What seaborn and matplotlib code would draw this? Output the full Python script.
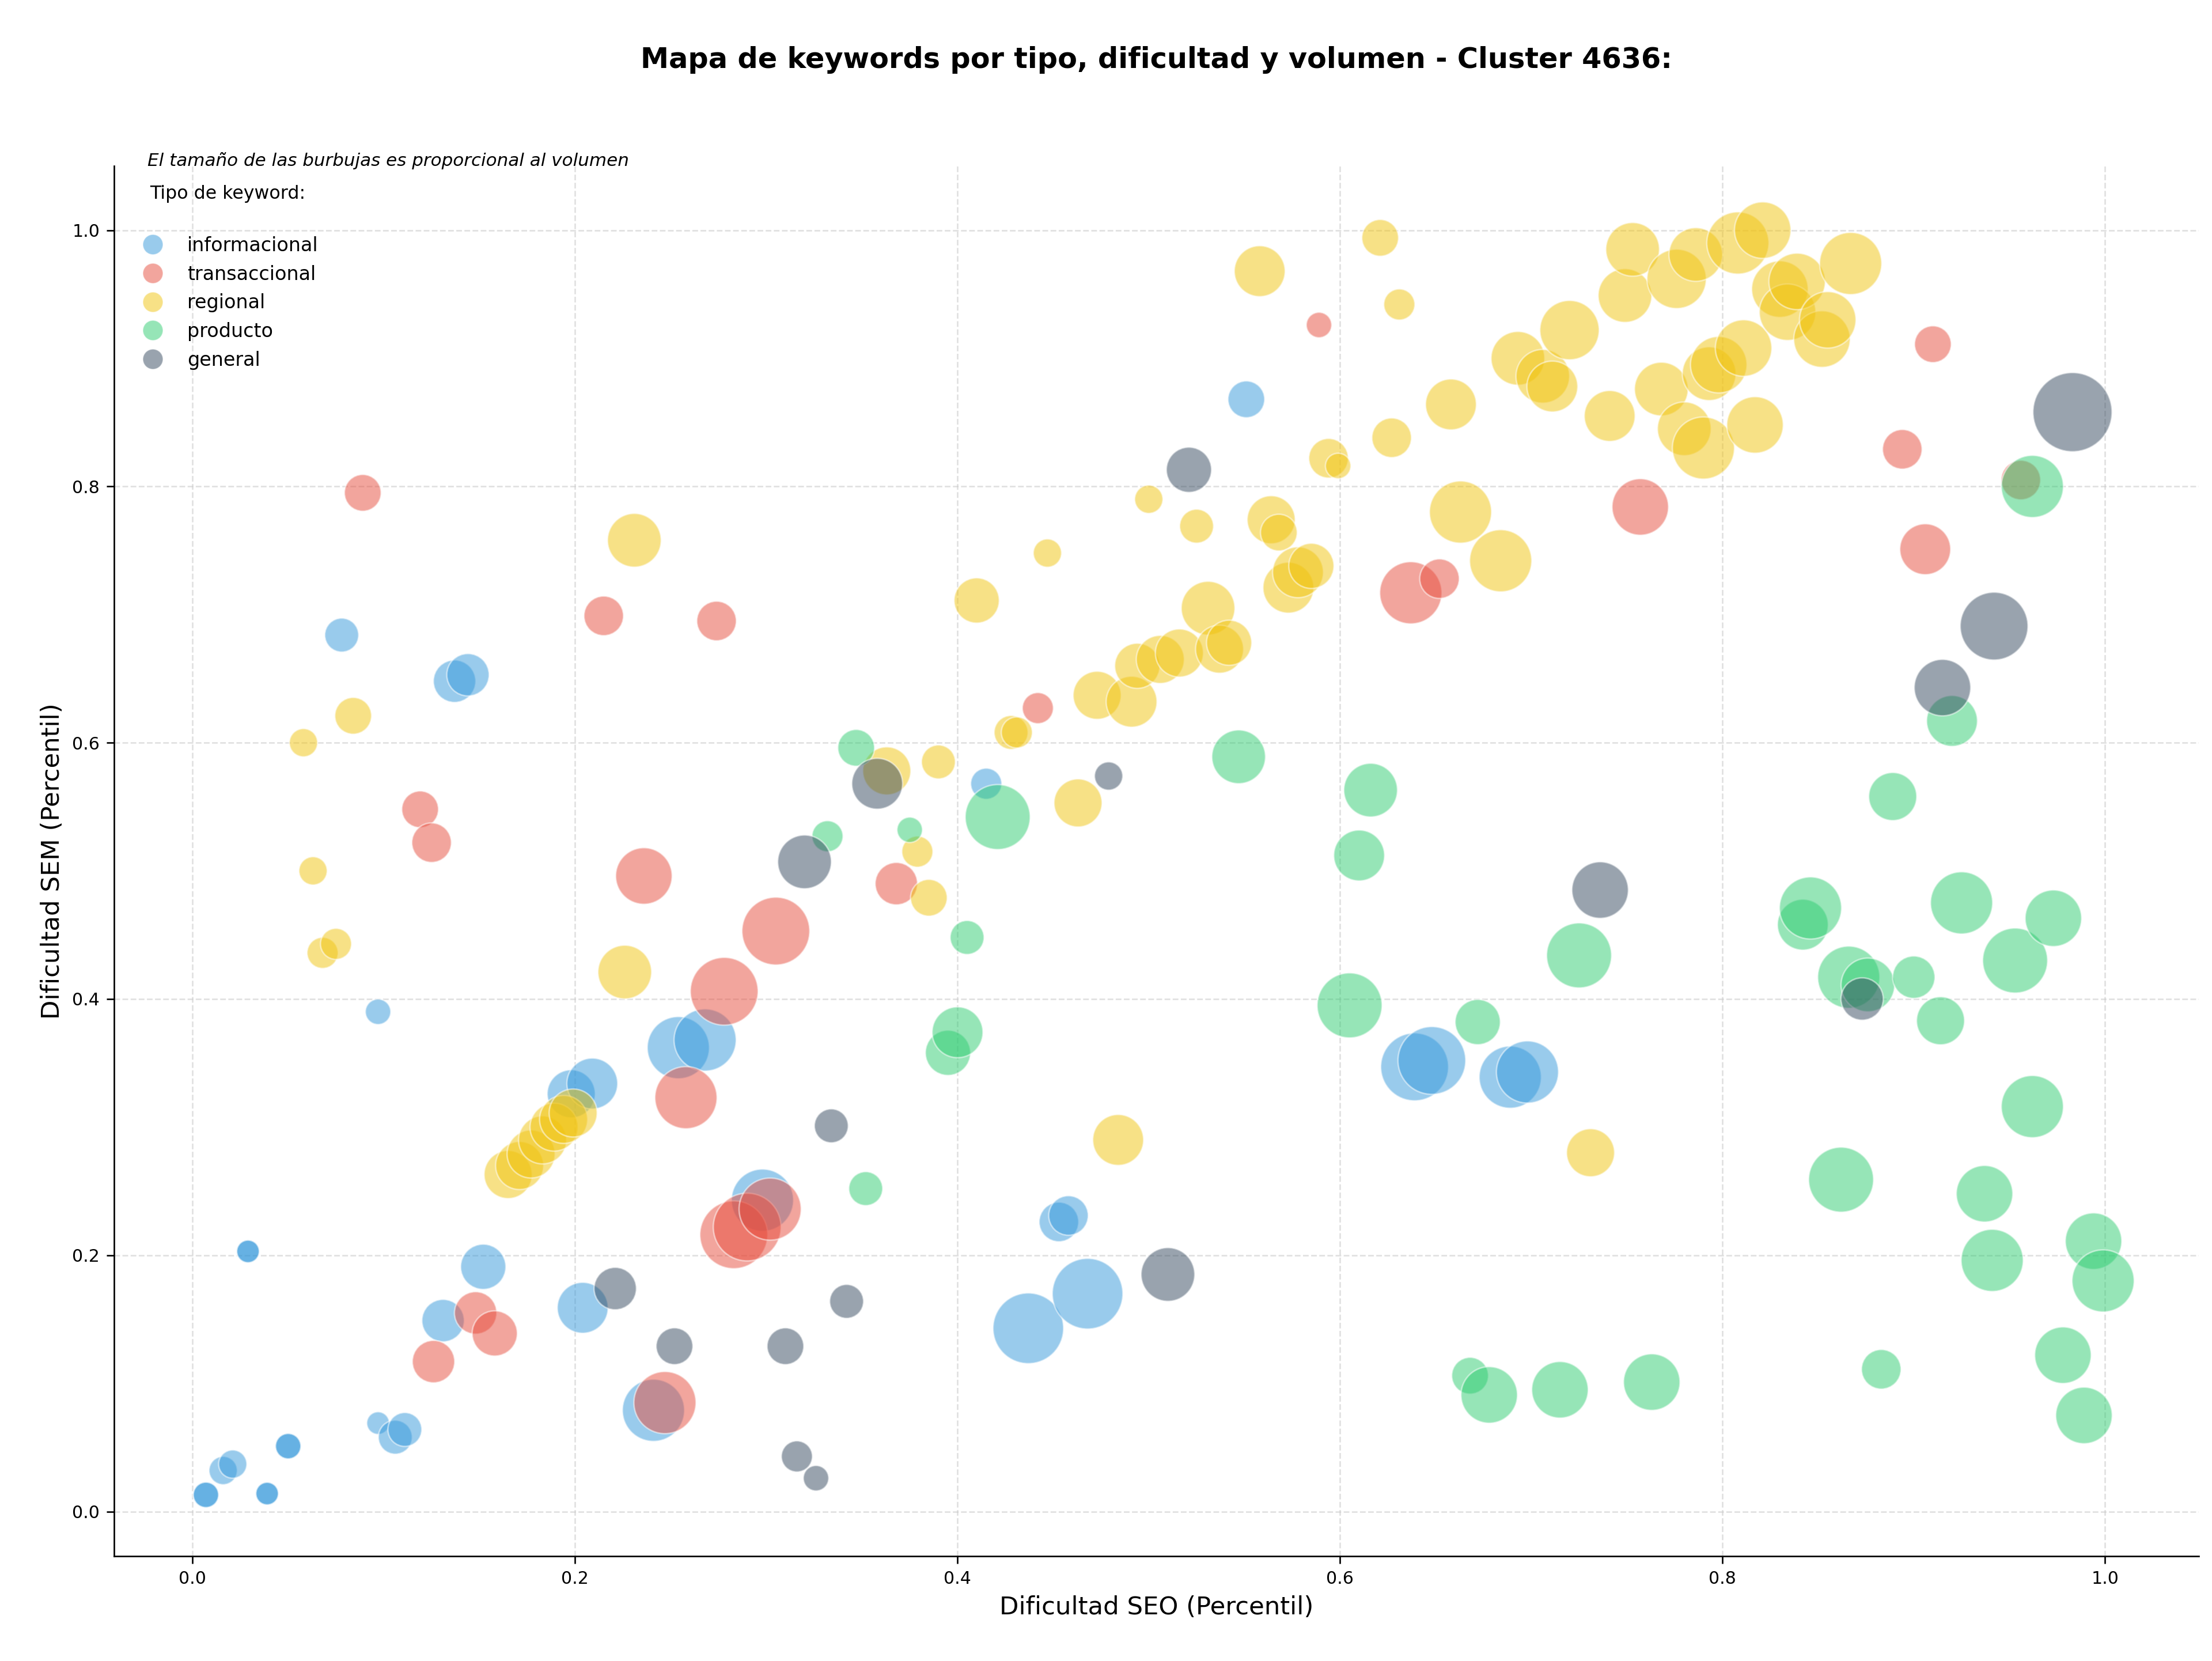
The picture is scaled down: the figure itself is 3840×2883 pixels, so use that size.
import numpy as np
import pandas as pd
import matplotlib
matplotlib.use("Agg")
import matplotlib.pyplot as plt
import seaborn as sns
from matplotlib.lines import Line2D

# ---------------- data ----------------
categorias = ["informacional", "transaccional", "regional", "producto", "general"]
colores = ["#3498DB", "#E74C3C", "#F1C40F", "#2ECC71", "#34495E"]

info_seo = [0.029, 0.029, 0.007, 0.007, 0.016, 0.021, 0.039, 0.039, 0.050, 0.050, 0.097, 0.106, 0.111,
            0.097, 0.078, 0.137, 0.144,
            0.131, 0.152, 0.204, 0.198, 0.209, 0.254, 0.268, 0.241, 0.298, 0.415, 0.437, 0.453, 0.458,
            0.468, 0.551, 0.639, 0.648, 0.689, 0.698]
info_sem = [0.203, 0.203, 0.013, 0.013, 0.032, 0.037, 0.014, 0.014, 0.051, 0.051, 0.069, 0.058, 0.064,
            0.390, 0.684, 0.648, 0.653,
            0.149, 0.191, 0.159, 0.326, 0.334, 0.362, 0.368, 0.079, 0.243, 0.568, 0.143, 0.226, 0.231,
            0.170, 0.868, 0.347, 0.352, 0.339, 0.343]
info_vol = [640, 640, 810, 810, 1000, 1000, 640, 640, 810, 810, 640, 1440, 1440,
            810, 1440, 2250, 2250,
            2250, 2560, 3240, 2890, 3240, 4840, 4840, 4840, 4840, 1210, 6250, 1960, 1960,
            6250, 1690, 5760, 5760, 4840, 4840]

trans_seo = [0.089, 0.119, 0.125, 0.215, 0.274, 0.236, 0.305, 0.278, 0.258, 0.126, 0.148, 0.158, 0.247,
             0.283, 0.290, 0.302, 0.368, 0.442, 0.589, 0.637, 0.652, 0.757, 0.894, 0.906, 0.910, 0.956]
trans_sem = [0.795, 0.548, 0.522, 0.699, 0.695, 0.496, 0.453, 0.406, 0.323, 0.117, 0.155, 0.139, 0.085,
             0.216, 0.222, 0.236, 0.490, 0.627, 0.926, 0.717, 0.728, 0.784, 0.829, 0.751, 0.911, 0.805]
trans_vol = [1690, 1690, 1960, 1960, 1960, 4000, 5760, 5760, 4840, 2250, 2250, 2560, 4840,
             5760, 5760, 4840, 2250, 1210, 810, 4840, 1960, 4000, 1960, 3240, 1690, 1960]

reg_seo = [0.058, 0.084, 0.063, 0.068, 0.075, 0.231, 0.226,
           0.165, 0.171, 0.177, 0.183, 0.189, 0.194, 0.199,
           0.363, 0.390, 0.379, 0.385, 0.410, 0.428, 0.431, 0.447, 0.463, 0.473, 0.484, 0.491,
           0.494, 0.500, 0.506, 0.516, 0.525, 0.531, 0.537, 0.542, 0.558, 0.564, 0.568, 0.573,
           0.578, 0.585, 0.594, 0.599, 0.621, 0.627, 0.631, 0.658, 0.663, 0.684, 0.693, 0.706,
           0.711, 0.720, 0.731, 0.741, 0.749, 0.753, 0.768, 0.776, 0.780, 0.786, 0.790, 0.793,
           0.798, 0.808, 0.811, 0.817, 0.821, 0.830, 0.834, 0.839, 0.852, 0.855, 0.867]
reg_sem = [0.600, 0.621, 0.500, 0.436, 0.443, 0.758, 0.421,
           0.263, 0.270, 0.279, 0.290, 0.300, 0.306, 0.311,
           0.578, 0.585, 0.515, 0.479, 0.711, 0.608, 0.608, 0.748, 0.553, 0.637, 0.290, 0.632,
           0.660, 0.790, 0.665, 0.670, 0.769, 0.705, 0.673, 0.678, 0.968, 0.774, 0.764, 0.721,
           0.733, 0.738, 0.822, 0.816, 0.994, 0.838, 0.942, 0.864, 0.780, 0.742, 0.900, 0.886,
           0.878, 0.922, 0.280, 0.855, 0.949, 0.985, 0.876, 0.962, 0.845, 0.981, 0.830, 0.888,
           0.895, 0.990, 0.908, 0.848, 1.000, 0.954, 0.936, 0.960, 0.915, 0.930, 0.974]
reg_vol = [1000, 1690, 1000, 1210, 1210, 3610, 3610,
           2890, 2890, 2890, 2890, 2890, 2890, 2890,
           2890, 1440, 1210, 1690, 2560, 1440, 1210, 1000, 2890, 2890, 3240, 3240,
           2560, 1000, 2890, 2890, 1440, 3610, 2890, 2560, 3240, 2890, 1690, 3240,
           3240, 2560, 1960, 810, 1690, 1960, 1210, 3240, 4840, 4840, 3610, 3610,
           3240, 4410, 2890, 3240, 3610, 3610, 3610, 4410, 3610, 3610, 4840, 3610,
           4000, 4840, 4000, 4000, 4000, 4000, 4000, 4000, 4000, 4000, 4840]

prod_seo = [0.347, 0.332, 0.375, 0.352, 0.405, 0.395, 0.400, 0.421, 0.547, 0.610, 0.616, 0.605, 0.672,
            0.668, 0.678, 0.715, 0.725, 0.763, 0.842, 0.846, 0.862, 0.866, 0.876, 0.883, 0.889, 0.900,
            0.914, 0.920, 0.925, 0.937, 0.941, 0.953, 0.962, 0.962, 0.973, 0.978, 0.989, 0.994, 0.999]
prod_sem = [0.596, 0.527, 0.532, 0.252, 0.448, 0.358, 0.374, 0.542, 0.589, 0.512, 0.563, 0.395, 0.382,
            0.106, 0.091, 0.095, 0.434, 0.101, 0.458, 0.471, 0.259, 0.417, 0.411, 0.111, 0.558, 0.417,
            0.383, 0.617, 0.475, 0.248, 0.196, 0.430, 0.316, 0.800, 0.463, 0.122, 0.075, 0.211, 0.180]
prod_vol = [1690, 1210, 810, 1440, 1440, 2560, 3240, 5290, 3610, 3240, 3610, 5290, 2560,
            1690, 4000, 4000, 5290, 4000, 3240, 4840, 5290, 4840, 3610, 1960, 2890, 2250,
            2890, 3240, 4840, 4000, 4840, 5290, 4840, 4840, 4000, 4000, 4000, 4000, 4840]

gen_seo = [0.221, 0.252, 0.310, 0.316, 0.326, 0.334, 0.342, 0.320, 0.358, 0.479, 0.510, 0.521, 0.736,
           0.873, 0.915, 0.942, 0.983]
gen_sem = [0.174, 0.129, 0.129, 0.043, 0.026, 0.301, 0.164, 0.507, 0.568, 0.574, 0.185, 0.813, 0.485,
           0.400, 0.643, 0.691, 0.858]
gen_vol = [2250, 1690, 1690, 1210, 810, 1440, 1440, 3610, 3240, 1000, 3610, 2560, 4000,
           2250, 4000, 5760, 7840]

titulo = "Mapa de keywords por tipo, dificultad y volumen - Cluster 4636:"
nota = "El tamaño de las burbujas es proporcional al volumen"
titulo_leyenda = "Tipo de keyword:"
xlabel = "Dificultad SEO (Percentil)"
ylabel = "Dificultad SEM (Percentil)"
xticks = [0.0, 0.2, 0.4, 0.6, 0.8, 1.0]
yticks = [0.0, 0.2, 0.4, 0.6, 0.8, 1.0]

# ---------------- table ----------------
frames = []
for cat, sx, sy, vv in zip(categorias,
                           [info_seo, trans_seo, reg_seo, prod_seo, gen_seo],
                           [info_sem, trans_sem, reg_sem, prod_sem, gen_sem],
                           [info_vol, trans_vol, reg_vol, prod_vol, gen_vol]):
    frames.append(pd.DataFrame({"seo": sx, "sem": sy, "volumen": vv, "tipo": cat}))
df = pd.concat(frames, ignore_index=True)

# ---------------- plot ----------------
sns.set_style("white")
plt.rcParams["font.family"] = ["DejaVu Sans"]
for k in ["text.color", "axes.labelcolor", "xtick.color", "ytick.color"]:
    plt.rcParams[k] = "black"

fig, ax = plt.subplots(figsize=(16, 12.0125), dpi=240)
fig.subplots_adjust(left=0.0516, right=0.994, bottom=0.063, top=0.90)

palette = dict(zip(categorias, colores))
sns.scatterplot(data=df, x="seo", y="sem", hue="tipo", hue_order=categorias, palette=palette,
                size="volumen", sizes=(0, 1728), size_norm=(0, 8000),
                alpha=0.5, edgecolor="white", linewidth=0.8, legend=False, ax=ax)

ax.set_xlim(-0.041, 1.049)
ax.set_ylim(-0.035, 1.05)
ax.set_xticks(xticks)
ax.set_yticks(yticks)
ax.tick_params(axis="both", labelsize=9, length=4, width=0.8, direction="out",
               bottom=True, left=True, colors="black")
ax.grid(True, linestyle="--", color="#cccccc", alpha=0.6, linewidth=0.8)
ax.set_axisbelow(True)
for s in ["top", "right"]:
    ax.spines[s].set_visible(False)
for s in ["left", "bottom"]:
    ax.spines[s].set_color("black")
    ax.spines[s].set_linewidth(0.8)

ax.set_xlabel(xlabel, fontsize=13, color="black")
ax.set_ylabel(ylabel, fontsize=13, color="black")

# title centred over the axes
ax_center = (0.0516 + 0.994) / 2
fig.text(ax_center, 0.964, titulo, fontsize=14.8, fontweight="bold",
         ha="center", va="center", color="black")

ax.text(0.016, 1.004, nota, transform=ax.transAxes, fontsize=9.3, fontstyle="italic",
        ha="left", va="center", color="black")
ax.text(0.017, 0.980, titulo_leyenda, transform=ax.transAxes, fontsize=9.5,
        ha="left", va="center", color="black")

handles = [Line2D([0], [0], marker="o", linestyle="", markersize=10.5,
                  markerfacecolor=c, markeredgecolor="white", markeredgewidth=0.5, alpha=0.5)
           for c in colores]
leg = ax.legend(handles, categorias, loc="upper left",
                bbox_to_anchor=(0.001, 0.962), frameon=False, fontsize=10,
                handletextpad=0.8, labelspacing=0.5)

fig.savefig("out.png", dpi=240)
